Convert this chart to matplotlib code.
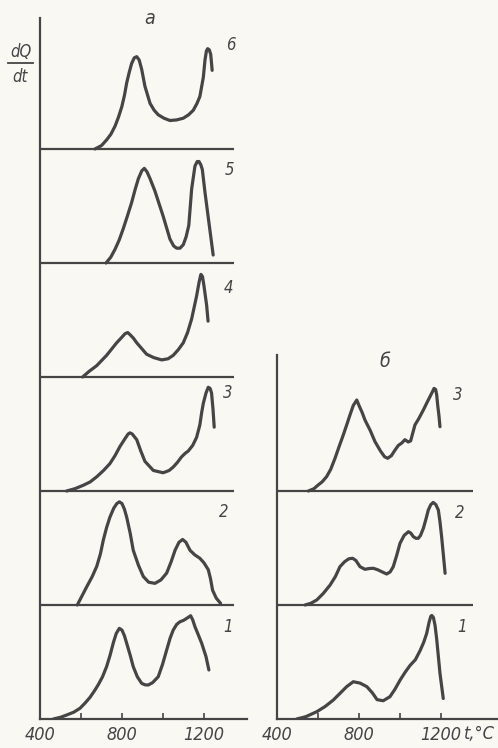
import matplotlib
matplotlib.use("Agg")
import matplotlib.pyplot as plt
from matplotlib.lines import Line2D

# thermograms dQ/dt vs t, °C : series "а" (curves 1-6) and "б" (curves 1-3)
a1_t = [465, 500, 530, 565, 595, 620, 644, 665, 684, 705, 725, 742, 758, 772, 787, 800, 812, 823, 840,
        855, 875, 896, 912, 928, 950, 977, 998, 1018, 1035, 1050, 1067, 1083, 1100, 1116, 1135, 1145,
        1156, 1172, 1189, 1210, 1224]
a1_q = [0, 0.015, 0.035, 0.06, 0.094, 0.14, 0.19, 0.245, 0.30, 0.37, 0.46, 0.56, 0.67, 0.75, 0.795,
        0.78, 0.73, 0.664, 0.56, 0.459, 0.37, 0.313, 0.30, 0.298, 0.32, 0.371, 0.48, 0.605, 0.71, 0.78,
        0.83, 0.853, 0.865, 0.883, 0.906, 0.87, 0.81, 0.74, 0.664, 0.547, 0.43]

a2_t = [582, 605, 628, 655, 677, 695, 709, 725, 741, 760, 775, 787, 800, 812, 823, 840, 855, 880, 904,
        930, 961, 990, 1018, 1040, 1059, 1078, 1096, 1112, 1132, 1155, 1180, 1200, 1221, 1232, 1242,
        1260, 1281]
a2_q = [0, 0.08, 0.16, 0.25, 0.34, 0.45, 0.57, 0.68, 0.77, 0.85, 0.89, 0.905, 0.89, 0.84, 0.77, 0.63,
        0.48, 0.35, 0.25, 0.20, 0.19, 0.22, 0.28, 0.38, 0.48, 0.55, 0.575, 0.55, 0.48, 0.44, 0.41, 0.37,
        0.31, 0.23, 0.13, 0.06, 0.015]

a3_t = [530, 570, 611, 645, 677, 710, 741, 766, 790, 815, 830, 839, 850, 872, 892, 912, 953, 1001,
        1030, 1050, 1070, 1091, 1108, 1123, 1145, 1164, 1180, 1189, 1197, 1210, 1221, 1230, 1237, 1244,
        1250]
a3_q = [0, 0.02, 0.05, 0.08, 0.125, 0.18, 0.24, 0.31, 0.39, 0.46, 0.50, 0.51, 0.50, 0.45, 0.35, 0.26,
        0.18, 0.16, 0.18, 0.21, 0.25, 0.30, 0.33, 0.35, 0.40, 0.47, 0.58, 0.69, 0.77, 0.86, 0.91, 0.90,
        0.86, 0.72, 0.56]

a4_t = [608, 640, 677, 725, 774, 800, 815, 828, 840, 856, 872, 896, 920, 955, 994, 1025, 1050, 1075,
        1099, 1120, 1140, 1164, 1176, 1185, 1193, 1200, 1213, 1220]
a4_q = [0, 0.05, 0.10, 0.19, 0.30, 0.35, 0.38, 0.39, 0.37, 0.34, 0.30, 0.25, 0.20, 0.17, 0.15, 0.16,
        0.19, 0.24, 0.30, 0.39, 0.51, 0.71, 0.83, 0.90, 0.88, 0.80, 0.63, 0.49]

a5_t = [722, 745, 766, 786, 806, 826, 847, 865, 880, 897, 909, 922, 937, 961, 1001, 1034, 1052, 1067,
        1083, 1099, 1113, 1126, 1140, 1156, 1167, 1176, 1185, 1192, 1205, 1226, 1245]
a5_q = [0, 0.05, 0.12, 0.20, 0.30, 0.41, 0.53, 0.65, 0.74, 0.81, 0.83, 0.80, 0.74, 0.63, 0.41, 0.21,
        0.15, 0.13, 0.13, 0.16, 0.23, 0.33, 0.65, 0.85, 0.89, 0.89, 0.86, 0.82, 0.62, 0.33, 0.07]

a6_t = [668, 700, 725, 746, 766, 783, 799, 812, 823, 835, 847, 860, 872, 884, 896, 912, 937, 957, 977,
        1005, 1034, 1066, 1099, 1125, 1148, 1166, 1180, 1197, 1205, 1212, 1218, 1226, 1233, 1240]
a6_q = [0, 0.03, 0.08, 0.13, 0.20, 0.28, 0.37, 0.47, 0.58, 0.67, 0.75, 0.80, 0.81, 0.78, 0.70, 0.55,
        0.40, 0.34, 0.30, 0.27, 0.25, 0.255, 0.27, 0.30, 0.34, 0.40, 0.46, 0.63, 0.78, 0.86, 0.88, 0.87,
        0.83, 0.69]

b1_t = [496, 540, 594, 635, 675, 710, 740, 772, 805, 838, 865, 888, 918, 951, 975, 1000, 1025, 1049,
        1075, 1098, 1115, 1130, 1142, 1150, 1155, 1163, 1171, 1179, 1187, 1195, 1203, 1211]
b1_q = [0, 0.02, 0.064, 0.11, 0.167, 0.23, 0.284, 0.327, 0.315, 0.284, 0.23, 0.17, 0.16, 0.196, 0.26,
        0.34, 0.41, 0.47, 0.52, 0.60, 0.67, 0.75, 0.85, 0.90, 0.908, 0.89, 0.82, 0.70, 0.55, 0.40, 0.29,
        0.18]

b2_t = [537, 565, 594, 625, 659, 685, 707, 730, 750, 769, 785, 805, 829, 850, 870, 890, 911, 935, 952,
        967, 983, 1000, 1020, 1041, 1053, 1065, 1078, 1089, 1100, 1114, 1126, 1138, 1150, 1162, 1175,
        1187, 1195, 1203, 1212, 1220]
b2_q = [0, 0.015, 0.044, 0.1, 0.175, 0.25, 0.336, 0.38, 0.405, 0.41, 0.39, 0.336, 0.313, 0.32, 0.322,
        0.31, 0.292, 0.272, 0.29, 0.336, 0.43, 0.541, 0.61, 0.643, 0.63, 0.599, 0.585, 0.585, 0.61, 0.673,
        0.75, 0.833, 0.88, 0.9, 0.88, 0.833, 0.73, 0.599, 0.43, 0.278]

b3_t = [553, 580, 601, 620, 642, 662, 683, 703, 723, 740, 756, 772, 789, 800, 815, 829, 855, 878, 905,
        925, 940, 958, 976, 992, 1008, 1024, 1040, 1052, 1073, 1090, 1114, 1130, 1146, 1158, 1166, 1174,
        1179, 1184, 1190, 1195]
b3_q = [0, 0.02, 0.053, 0.08, 0.126, 0.19, 0.287, 0.39, 0.49, 0.58, 0.667, 0.75, 0.798, 0.75, 0.69,
        0.623, 0.53, 0.433, 0.35, 0.30, 0.287, 0.31, 0.36, 0.40, 0.42, 0.45, 0.43, 0.44, 0.58, 0.63, 0.711,
        0.77, 0.827, 0.87, 0.9, 0.89, 0.842, 0.75, 0.66, 0.564]

a_curves = [(a1_t, a1_q), (a2_t, a2_q), (a3_t, a3_q), (a4_t, a4_q), (a5_t, a5_q), (a6_t, a6_q)]
b_curves = [(b1_t, b1_q), (b2_t, b2_q), (b3_t, b3_q)]
a_ticks = [400, 600, 800, 1000, 1200]
a_ticklabels = ["400", "", "800", "", "1200"]
b_ticks = [400, 600, 800, 1000, 1200]
b_ticklabels = ["400", "", "800", "", "1200"]

W, H = 498, 748
INK = "#454545"
PAPER = "#f9f8f3"
FONT = dict(family="DejaVu Sans", stretch="condensed", style="italic", color=INK)


def px(x, y):
    return x / W, 1 - y / H


def panel(fig, left, right, top, xmax, baseline_end, curves, ticks, ticklabels):
    bottom = 719
    ax = fig.add_axes([left / W, 1 - bottom / H, (right - left) / W, (bottom - top) / H])
    ax.set_facecolor("none")
    ax.set_xlim(400, xmax)
    ax.set_ylim(0, (bottom - top) / 114)
    for s in ["top", "right"]:
        ax.spines[s].set_visible(False)
    for s in ["left", "bottom"]:
        ax.spines[s].set_color(INK)
        ax.spines[s].set_linewidth(1.6)
    ax.set_yticks([])
    ax.set_xticks(ticks)
    ax.set_xticklabels(ticklabels, fontsize=13, **FONT)
    ax.tick_params(axis="x", direction="in", length=4, width=1.2, color=INK, pad=5)
    # stacked curves, one strip each
    for i, (t, q) in enumerate(curves):
        if i > 0:
            ax.hlines(i, 400, baseline_end, color=INK, lw=1.6)
        ax.plot(t, [i + v for v in q], color=INK, lw=2.3, solid_joinstyle="round",
                solid_capstyle="round")
    return ax


fig = plt.figure(figsize=(W / 100, H / 100), dpi=100)
fig.patch.set_facecolor(PAPER)

panel(fig, 40, 247, 18, 1410, 1348, a_curves, a_ticks, a_ticklabels)
panel(fig, 277, 498, 355, 1478, 1356, b_curves, b_ticks, b_ticklabels)

# dQ/dt axis caption
fig.text(*px(21, 52), "dQ", fontsize=12, ha="center", va="center", **FONT)
fig.text(*px(20, 77), "dt", fontsize=12, ha="center", va="center", **FONT)
fig.add_artist(Line2D([8 / W, 33 / W], [1 - 63 / H, 1 - 63 / H], color=INK, lw=1.3))

fig.text(*px(150, 18), "а", fontsize=14, ha="center", va="center", **FONT)
fig.text(*px(385, 362), "б", fontsize=14, ha="center", va="center", **FONT)
fig.text(*px(464, 734), "t,°C", fontsize=13, ha="left", va="center", **FONT)

# curve numbers
for label, x, y in [("6", 231, 45), ("5", 229, 170), ("4", 228, 288), ("3", 228, 393),
                    ("2", 224, 512), ("1", 228, 627),
                    ("3", 458, 395), ("2", 460, 513), ("1", 462, 627)]:
    fig.text(*px(x, y), label, fontsize=12, ha="center", va="center", **FONT)

fig.savefig("out.png", dpi=100, facecolor=PAPER)
